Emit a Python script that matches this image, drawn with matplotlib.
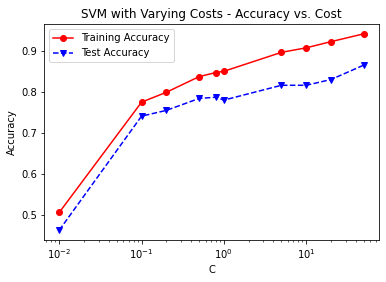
import matplotlib
matplotlib.use("Agg")
import matplotlib.pyplot as plt

costs = [0.01, 0.1, 0.2, 0.5, 0.8, 1, 5, 10, 20, 50]
train_acc = [0.507, 0.775, 0.799, 0.837, 0.847, 0.850, 0.896, 0.907, 0.922, 0.941]
test_acc = [0.464, 0.741, 0.755, 0.784, 0.787, 0.780, 0.816, 0.816, 0.830, 0.865]

fig = plt.figure(figsize=(386 / 72, 282 / 72), dpi=72)
ax = fig.add_axes([44 / 386, 42 / 282, 335 / 386, 216 / 282])

ax.plot(costs, train_acc, "ro-", label="Training Accuracy")
ax.plot(costs, test_acc, "bv--", label="Test Accuracy")
ax.set_xscale("log")
ax.set_title("SVM with Varying Costs - Accuracy vs. Cost")
ax.set_xlabel("C")
ax.set_ylabel("Accuracy")
ax.legend(loc="upper left")

fig.savefig("out.png", dpi=72)
